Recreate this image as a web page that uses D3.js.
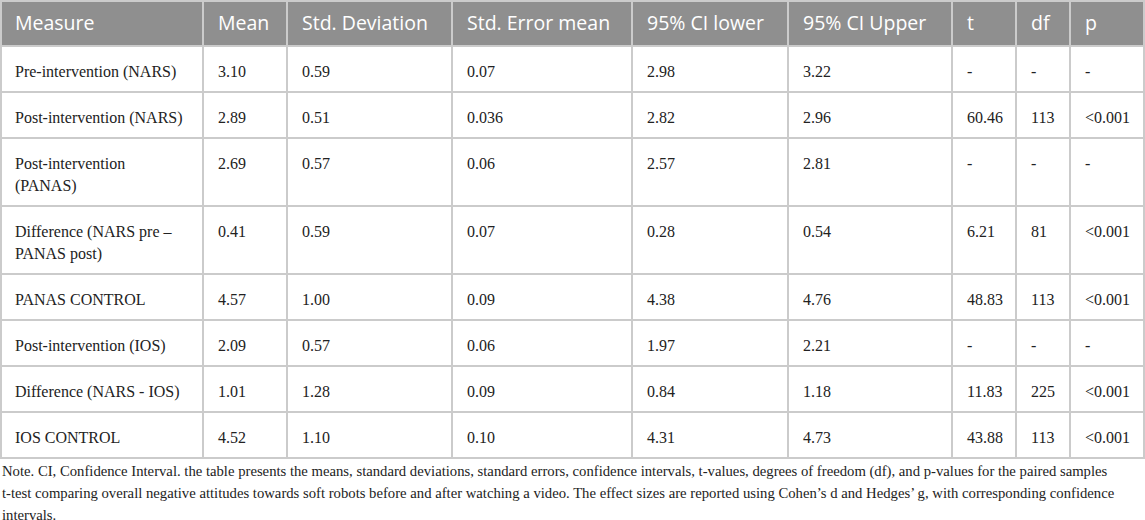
<!DOCTYPE html>
<html>
<head>
<meta charset="utf-8">
<script src="https://cdn.jsdelivr.net/npm/d3@7"></script>
<style>
  body { margin: 0; background: #fff; }
</style>
</head>
<body>
<script>
// Table content
const columns = ["Measure", "Mean", "Std. Deviation", "Std. Error mean", "95% CI lower", "95% CI Upper", "t", "df", "p"];
const measures = [
  "Pre-intervention (NARS)",
  "Post-intervention (NARS)",
  "Post-intervention\n(PANAS)",
  "Difference (NARS pre –\nPANAS post)",
  "PANAS CONTROL",
  "Post-intervention (IOS)",
  "Difference (NARS - IOS)",
  "IOS CONTROL"
];
const means    = ["3.10", "2.89", "2.69", "0.41", "4.57", "2.09", "1.01", "4.52"];
const stdDevs  = ["0.59", "0.51", "0.57", "0.59", "1.00", "0.57", "1.28", "1.10"];
const stdErrs  = ["0.07", "0.036", "0.06", "0.07", "0.09", "0.06", "0.09", "0.10"];
const ciLower  = ["2.98", "2.82", "2.57", "0.28", "4.38", "1.97", "0.84", "4.31"];
const ciUpper  = ["3.22", "2.96", "2.81", "0.54", "4.76", "2.21", "1.18", "4.73"];
const tValues  = ["-", "60.46", "-", "6.21", "48.83", "-", "11.83", "43.88"];
const dfValues = ["-", "113", "-", "81", "113", "-", "225", "113"];
const pValues  = ["-", "<0.001", "-", "<0.001", "<0.001", "-", "<0.001", "<0.001"];
const noteLines = [
  "Note. CI, Confidence Interval. the table presents the means, standard deviations, standard errors, confidence intervals, t-values, degrees of freedom (df), and p-values for the paired samples",
  "t-test comparing overall negative attitudes towards soft robots before and after watching a video. The effect sizes are reported using Cohen’s d and Hedges’ g, with corresponding confidence",
  "intervals."
];

// Layout
const width = 1145, height = 520;
const colWidths = [203, 84, 165, 180, 156, 164, 64, 54, 75];
const headerH = 46, lineH = 22, singleRowH = 46, padX = 15;
const gridColor = "#cbcbcb", headerFill = "#8f8f8f";

const rows = measures.map((m, i) => [m, means[i], stdDevs[i], stdErrs[i], ciLower[i], ciUpper[i], tValues[i], dfValues[i], pValues[i]]);

const colX = [0];
colWidths.forEach(w => colX.push(colX[colX.length - 1] + w));

// row heights grow with number of lines in the cell
const rowY = [headerH];
rows.forEach(r => {
  const nLines = d3.max(r, c => c.split("\n").length);
  rowY.push(rowY[rowY.length - 1] + singleRowH + (nLines - 1) * lineH);
});
const tableBottom = rowY[rowY.length - 1];

const svg = d3.select("body").append("svg")
  .attr("width", width)
  .attr("height", height);

// header band
svg.append("rect")
  .attr("x", 0).attr("y", 0)
  .attr("width", width).attr("height", headerH)
  .attr("fill", headerFill);

svg.append("g")
  .selectAll("text")
  .data(columns)
  .join("text")
  .attr("x", (d, i) => colX[i] + padX)
  .attr("y", 30)
  .attr("fill", "#fff")
  .style("font-family", "'Open Sans', sans-serif")
  .style("font-size", "19.5px")
  .text(d => d);

// body cells
const rowG = svg.append("g")
  .selectAll("g")
  .data(rows)
  .join("g")
  .attr("transform", (d, i) => `translate(0,${rowY[i]})`);

rowG.selectAll("text")
  .data(d => d)
  .join("text")
  .attr("x", (d, i) => colX[i] + padX)
  .attr("y", 31)
  .attr("fill", "#222")
  .style("font-family", "'Liberation Serif', 'Times New Roman', serif")
  .style("font-size", "16px")
  .each(function(d) {
    const lines = d.split("\n");
    d3.select(this).selectAll("tspan")
      .data(lines)
      .join("tspan")
      .attr("x", d3.select(this).attr("x"))
      .attr("dy", (l, j) => j === 0 ? 0 : lineH)
      .text(l => l);
  });

// grid
const grid = svg.append("g")
  .attr("stroke", gridColor)
  .attr("stroke-width", 2);

grid.selectAll("line.h")
  .data(rowY)
  .join("line")
  .attr("class", "h")
  .attr("x1", 0).attr("x2", width)
  .attr("y1", d => d).attr("y2", d => d);

grid.selectAll("line.v")
  .data(colX.map((x, i) => i === colX.length - 1 ? x - 1 : (i === 0 ? 1 : x)))
  .join("line")
  .attr("class", "v")
  .attr("x1", d => d).attr("x2", d => d)
  .attr("y1", 0).attr("y2", tableBottom);

// top line over header
grid.append("line")
  .attr("x1", 0).attr("x2", width)
  .attr("y1", 1).attr("y2", 1);

// note under the table
svg.append("text")
  .attr("x", 2)
  .attr("y", tableBottom + 18)
  .attr("fill", "#222")
  .style("font-family", "'Liberation Serif', 'Times New Roman', serif")
  .style("font-size", "14.7px")
  .selectAll("tspan")
  .data(noteLines)
  .join("tspan")
  .attr("x", 2)
  .attr("dy", (d, i) => i === 0 ? 0 : lineH)
  .text(d => d);
</script>
</body>
</html>
